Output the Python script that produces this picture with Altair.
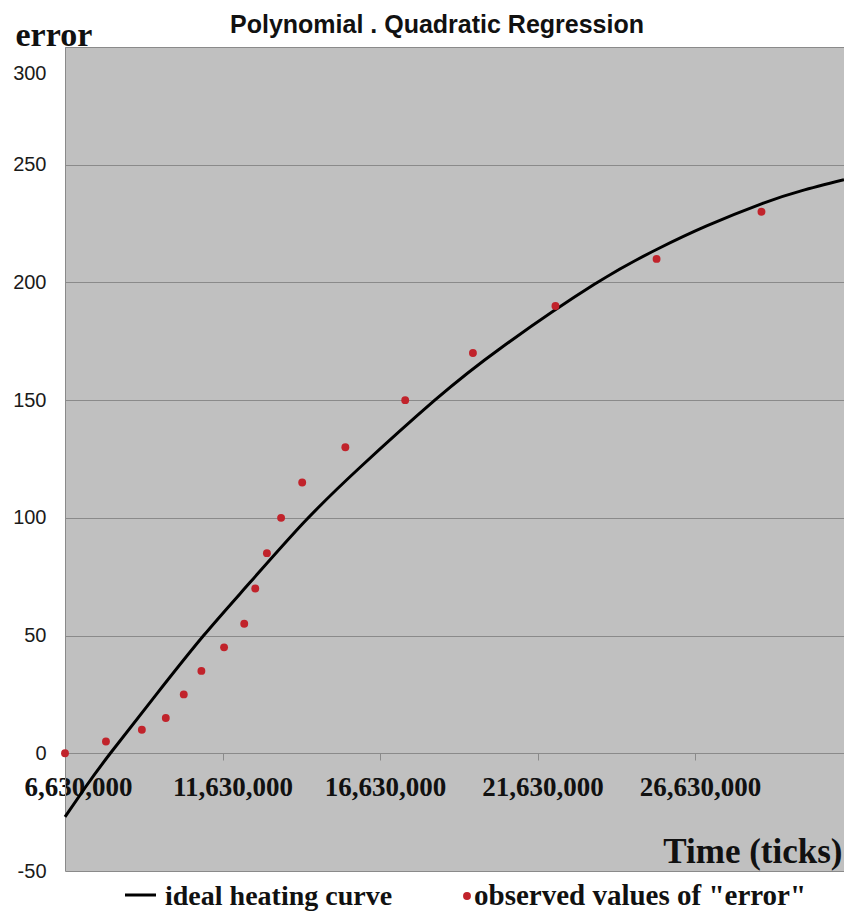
import altair as alt
import pandas as pd

# observed values of "error"
obs_time = [6630000, 7930000, 9070000, 9830000, 10400000, 10960000, 11680000, 12320000,
            12670000, 13040000, 13490000, 14160000, 15530000, 17430000, 19580000,
            22200000, 25410000, 28740000]
obs_error = [0, 5, 10, 15, 25, 35, 45, 55, 70, 85, 100, 115, 130, 150, 170, 190, 210, 230]

# ideal heating curve
curve_time = [6630000, 7300000, 8070000, 9500000, 11030000, 12500000, 14210000, 16000000,
              18370000, 20500000, 23410000, 25410000, 27000000, 28780000, 30000000, 31360000]
curve_error = [-27, -14, 0, 24.5, 50, 72.5, 98, 121.5, 150, 172.5, 199, 214, 224,
               233.6, 238.9, 243.6]

x_ticks = [6630000, 11630000, 16630000, 21630000, 26630000]
y_ticks = [-50, 0, 50, 100, 150, 200, 250, 300]

obs = pd.DataFrame({"time": obs_time, "error": obs_error})
curve = pd.DataFrame({"time": curve_time, "error": curve_error})

W, H = 779, 824
GRID = "#8a8a8a"
RED = "#c1232b"

xscale = alt.Scale(domain=[6630000, 31360000], nice=False, zero=False)
yscale = alt.Scale(domain=[-50, 300], nice=False, zero=False)

xaxis = alt.Axis(
    values=x_ticks, format=",d", orient="bottom", offset=-118,
    domain=False, grid=False, ticks=True, tickColor=GRID, tickSize=7,
    labelFont="Liberation Serif", labelFontWeight="bold", labelFontSize=27,
    labelColor="#111111", labelPadding=14, labelFlush=False, labelOverlap=False,
    labelOffset={"condition": [{"test": "datum.value < 7000000", "value": 13},
                               {"test": "datum.value < 12000000", "value": 10}],
                 "value": 5},
    title="Time (ticks)", titleFont="Liberation Serif", titleFontWeight="bold",
    titleFontSize=35, titleColor="#111111", titleAlign="right", titleAnchor="end",
    titleBaseline="alphabetic", titleX=777, titleY=109,
)
yaxis = alt.Axis(
    values=y_ticks, grid=True, gridColor=GRID, gridWidth=1, gridOpacity=1,
    labelExpr="'' + datum.value",
    domain=True, domainColor=GRID, domainWidth=1, ticks=False,
    labelFont="Liberation Sans", labelFontSize=20, labelColor="#1a1a1a",
    labelPadding=19,
    labelOffset={"condition": {"test": "datum.value == 300", "value": 26}, "value": 0},
    title="error", titleFont="Liberation Serif", titleFontWeight="bold",
    titleFontSize=34, titleColor="#111111", titleAngle=0, titleAlign="left",
    titleBaseline="alphabetic", titleX=-50, titleY=-2,
)

line = alt.Chart(curve).mark_line(color="black", strokeWidth=3, interpolate="natural").encode(
    x=alt.X("time:Q", scale=xscale, axis=xaxis),
    y=alt.Y("error:Q", scale=yscale, axis=yaxis),
)
points = alt.Chart(obs).mark_circle(color=RED, size=62, opacity=1).encode(
    x=alt.X("time:Q", scale=xscale),
    y=alt.Y("error:Q", scale=yscale),
)

one = pd.DataFrame({"k": [0]})
leg_line = alt.Chart(one).mark_rule(color="black", strokeWidth=3).encode(
    x=alt.value(60), x2=alt.value(91), y=alt.value(848)
)
leg_text1 = alt.Chart(one).mark_text(
    text="ideal heating curve", font="Liberation Serif", fontWeight="bold", fontSize=28,
    align="left", baseline="alphabetic", color="#111111"
).encode(x=alt.value(100), y=alt.value(858))
leg_dot = alt.Chart(one).mark_circle(color=RED, size=62, opacity=1).encode(
    x=alt.value(402), y=alt.value(849)
)
leg_text2 = alt.Chart(one).mark_text(
    text='observed values of "error"', font="Liberation Serif", fontWeight="bold", fontSize=29,
    align="left", baseline="alphabetic", color="#111111"
).encode(x=alt.value(409), y=alt.value(858))

chart = alt.layer(line, points, leg_line, leg_text1, leg_dot, leg_text2).properties(
    width=W, height=H,
    autosize=alt.AutoSizeParams(type="none"),
    padding={"left": 65, "top": 47, "right": 0, "bottom": 42},
    title=alt.TitleParams(
        "Polynomial . Quadratic Regression", font="Liberation Sans", fontSize=25,
        fontWeight="bold", color="#111111", anchor="start", frame="group", dx=165,
        baseline="alphabetic", offset=0, dy=40,
    ),
    background="white",
).configure_view(fill="#c0c0c0", stroke=None)

chart.save("out.html", embed_options={"renderer": "svg", "actions": False})
